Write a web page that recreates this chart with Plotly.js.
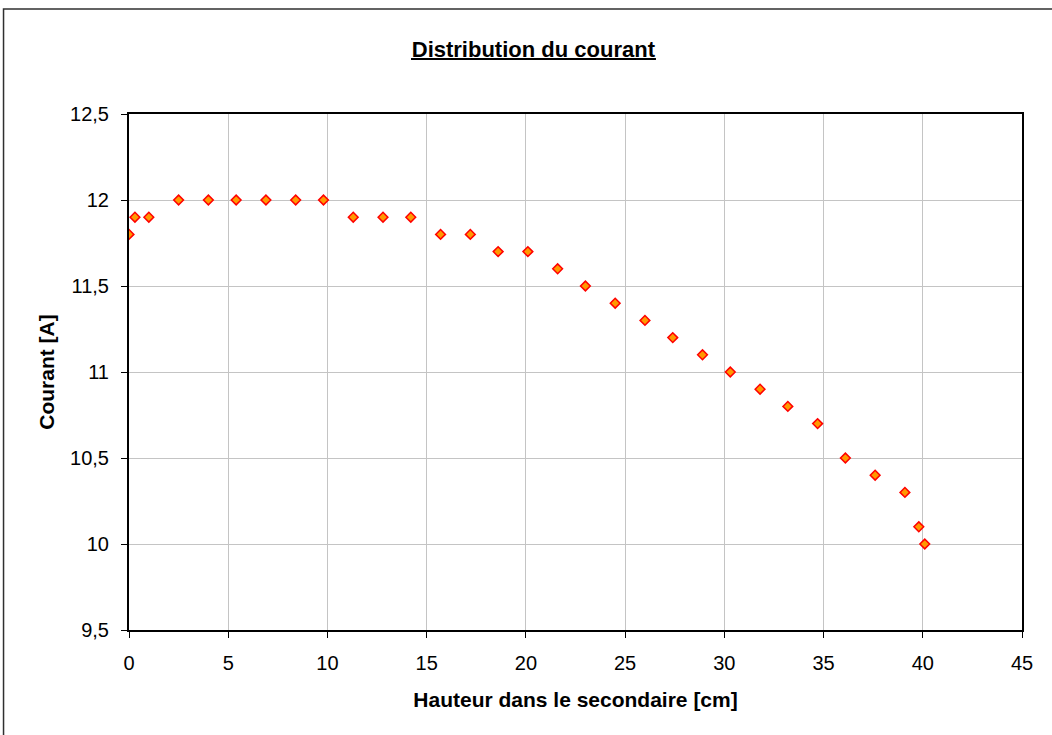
<!DOCTYPE html>
<html>
<head>
<meta charset="utf-8">
<script src="https://cdn.plot.ly/plotly-3.0.1.min.js"></script>
<style>html,body{margin:0;padding:0;background:#fff;}#chart{width:1052px;height:735px;}</style>
</head>
<body>
<div id="chart"></div>
<script>
const hauteur = [0, 0.3, 1, 2.5, 4, 5.4, 6.9, 8.4, 9.8, 11.3, 12.8, 14.2, 15.7, 17.2, 18.6, 20.1, 21.6, 23.0, 24.5, 26, 27.4, 28.9, 30.3, 31.8, 33.2, 34.7, 36.1, 37.6, 39.1, 39.8, 40.1];
const courant = [11.8, 11.9, 11.9, 12, 12, 12, 12, 12, 12, 11.9, 11.9, 11.9, 11.8, 11.8, 11.7, 11.7, 11.6, 11.5, 11.4, 11.3, 11.2, 11.1, 11.0, 10.9, 10.8, 10.7, 10.5, 10.4, 10.3, 10.1, 10.0];
const titleText = 'Distribution du courant';
const xTitle = 'Hauteur dans le secondaire [cm]';
const yTitle = 'Courant [A]';

const trace = {
  x: hauteur, y: courant, type: 'scatter', mode: 'markers',
  marker: {symbol: 'diamond', size: 7.5, color: '#FF9900', line: {color: '#FF0000', width: 1.5}},
  hoverinfo: 'x+y', showlegend: false
};

const font = {family: 'Liberation Sans, Arial, sans-serif', color: '#000'};
const layout = {
  width: 1052, height: 735,
  margin: {l: 129, r: 30, t: 114, b: 105},
  paper_bgcolor: '#fff', plot_bgcolor: '#fff',
  separators: ', ',
  font: Object.assign({size: 20}, font),
  title: {text: '<b>' + titleText + '</b>', font: Object.assign({size: 22}, font),
          xref: 'container', yref: 'container', x: 0.507, y: 1 - 49.6/735, xanchor: 'center', yanchor: 'middle'},
  xaxis: {range: [0, 45], dtick: 5, tick0: 0, showgrid: true, gridcolor: '#c4c4c4', gridwidth: 1,
          zeroline: false, showline: true, linecolor: '#000', linewidth: 2, mirror: true,
          ticks: 'outside', ticklen: 6, tickcolor: '#000', ticklabelstandoff: 8,
          tickfont: Object.assign({size: 20}, font),
          title: {text: '<b>' + xTitle + '</b>', font: Object.assign({size: 21}, font), standoff: 19}},
  yaxis: {range: [9.5, 12.5], dtick: 0.5, tick0: 9.5, showgrid: true, gridcolor: '#c4c4c4', gridwidth: 1,
          zeroline: false, showline: true, linecolor: '#000', linewidth: 2, mirror: true,
          ticks: 'outside', ticklen: 6, tickcolor: '#000', ticklabelstandoff: 8,
          tickfont: Object.assign({size: 20}, font),
          title: {text: '<b>' + yTitle + '</b>', font: Object.assign({size: 21}, font), standoff: 10}},
  shapes: [
    {type: 'rect', xref: 'paper', yref: 'paper', x0: -0.1405, x1: 1.2, y0: -0.5, y1: 1.2035,
     line: {color: '#303030', width: 1.5}, fillcolor: 'rgba(0,0,0,0)', layer: 'below'},
    {type: 'line', xref: 'paper', yref: 'paper', x0: 0.3158, x1: 0.5901, y0: 1.1066, y1: 1.1066,
     line: {color: '#000', width: 2}}
  ]
};
Plotly.newPlot('chart', [trace], layout, {displayModeBar: false, staticPlot: true});
</script>
</body>
</html>
